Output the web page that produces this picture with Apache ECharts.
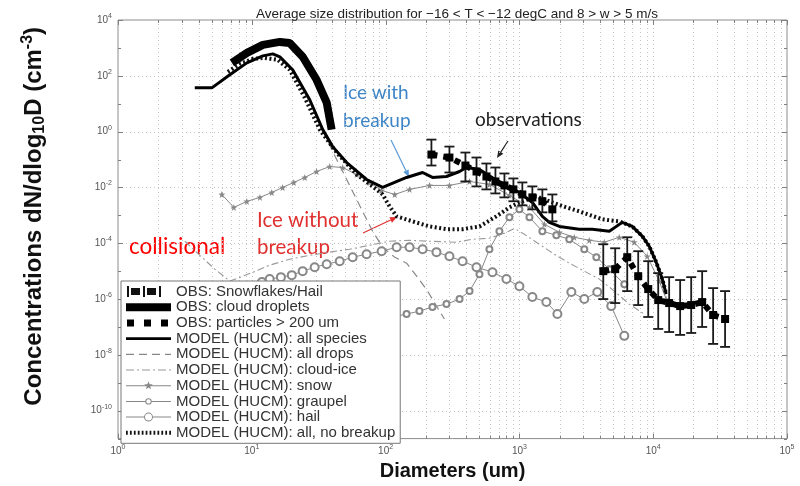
<!DOCTYPE html>
<html>
<head>
<meta charset="utf-8">
<script src="https://cdn.jsdelivr.net/npm/echarts@6/dist/echarts.min.js"></script>
<style>
html, body { margin: 0; padding: 0; background: #fff; }
#chart { width: 800px; height: 486px; }
</style>
</head>
<body>
<div id="chart"></div>
<script>
// Axis ticks (log10 decades)
const diameterTicks = [1, 10, 100, 1000, 10000, 100000];
const concentrationTicks = [1e-10, 1e-8, 1e-6, 1e-4, 1e-2, 1, 1e2, 1e4];

// Observations: cloud droplets (um, cm^-3)
const obsCloudDroplets = [[7.1,291],[9.2,661],[12.1,1280],[16.2,1640],[19.2,1500],[24,480],[30.5,72],[36.3,10.9],[39.5,1.18]];

// Observations: snowflakes/hail with spread, particles > 200 um
const obsDiameter = [220,300,395,478,567,662,773,902,1052,1250,1485,1763,
                     4236,5200,6397,7727,9180,10900,13160,15900,19230,23220,28050,34450];
const obsMid  = [0.151,0.118,0.0611,0.0373,0.0247,0.0164,0.0118,0.0085,0.0056,0.0044,0.0032,0.00164,
                 1.0e-5,1.18e-5,3.16e-5,6.6e-6,2.28e-6,9.2e-7,7.2e-7,5.6e-7,6.1e-7,7.8e-7,2.68e-7,1.93e-7];
const obsLow  = [0.0611,0.0343,0.0164,0.0109,0.0085,0.0061,0.0044,0.0032,0.00228,0.00164,0.00128,0.00061,
                 1.0e-6,7.2e-7,1.93e-6,6.1e-7,2.28e-7,8.5e-8,6.6e-8,5.2e-8,6.1e-8,1.0e-7,2.47e-8,1.93e-8];
const obsHigh = [0.518,0.291,0.178,0.118,0.072,0.0518,0.0316,0.021,0.0151,0.0109,0.0085,0.0056,
                 9.2e-5,6.6e-5,1.64e-4,5.2e-5,2.28e-5,8.5e-6,6.1e-6,4.8e-6,6.1e-6,1.0e-5,2.47e-6,1.93e-6];

// HUCM model size distributions
const modelAllSpecies = [[3.75,37],[5.03,37],[6.85,109],[9.18,291],[12.1,518],[14.35,611],[16.2,477],[20.2,164],
  [27.1,13.9],[33.9,1.18],[40.2,0.29],[51.2,0.078],[72.1,0.0193],[95,0.01],[143.5,0.0228],[189,0.0343],[224,0.0228],
  [285,0.0247],[357,0.0373],[402,0.052],[503,0.044],[629,0.022],[800,0.011],[1000,0.0066],[1250,0.0029],[1485,0.00092],
  [1675,0.00056],[1990,0.0004],[2800,0.00032],[3510,0.00032],[4700,0.00027],[5870,0.00056],[6970,0.0004],[8280,0.00018],
  [9340,7.8e-5],[10530,2.1e-5],[11700,5.2e-6],[12500,1.5e-6]];

const modelAllDrops = [[3.75,37],[5.03,37],[6.85,109],[9.18,291],[12.1,518],[14.35,611],[16.2,477],[20.2,164],
  [27.1,13.9],[33.9,1.18],[40.2,0.193],[47.8,0.0373],[56.7,0.0072],[67.3,0.00139],[80,2.7e-4],[95,7.2e-5],
  [117,3.16e-5],[143.5,1.93e-5],[173,6.1e-6],[206,1.93e-6],[240,5.6e-7],[275,1.93e-7]];

const modelCloudIce = [[3.16,1.18e-4],[4.09,3.7e-5],[5.29,1.18e-5],[6.85,4.4e-6],[8.57,6.6e-6],[10.7,1e-5],
  [13.6,1.64e-5],[19.2,2.68e-5],[27.1,3.7e-5],[38.2,4.8e-5],[53.8,6.1e-5],[76,8.5e-5],[107,1.18e-4],[151,1.28e-4],
  [213,1.18e-4],[339,1.09e-4],[446,1.39e-4],[597,1.51e-4],[773,2.28e-4],[918,3.4e-4],[1090,2.1e-4],[1410,9.2e-5],
  [1824,4.05e-5],[2360,1.93e-5],[3055,1e-5],[3955,5.2e-6],[5117,1.93e-6],[6620,6.6e-7],[8570,2.9e-7]];

const modelSnow = [[5.97,0.0056],[7.34,0.00193],[9.18,0.00316],[11.5,0.0044],[14.1,0.0066],[17.0,0.01],[20.6,0.0151],
  [24.9,0.0228],[30.5,0.0373],[38.2,0.056],[47.8,0.0518],[60.8,0.0291],[76,0.0151],[93.4,0.0078],[117,0.0056],
  [151,0.0085],[213,0.0118],[300,0.0118],[424,0.0164],[597,0.0128],[842,0.0052],[1189,0.00193],[1537,4.8e-4],
  [1990,2.47e-4],[2570,1.64e-4],[3327,1.28e-4],[4306,1.09e-4],[5570,1.64e-4],[7211,1.09e-4],[9020,3.4e-5],
  [11090,4.4e-6],[12500,1e-6]];

const modelGraupel = [[90.2,1.64e-7],[113,2.28e-7],[143.5,2.9e-7],[179,3.7e-7],[224,5.2e-7],[285,6.6e-7],[357,1e-6],
  [424,1.93e-6],[503,7.8e-6],[597,6.1e-5],[709,2.7e-4],[842,8.5e-4],[1000,1.64e-3],[1189,8.5e-4],[1485,2.7e-4],
  [1888,1.93e-4],[2360,1.39e-4],[3055,6.1e-5],[3758,3.16e-5],[4700,1.18e-5],[6080,3.4e-6]];

const modelHail = [[11.9,4.05e-6],[13.6,5.2e-6],[16.5,6.1e-6],[19.9,7.2e-6],[24.0,1e-5],[29.5,1.39e-5],[36.3,1.78e-5],
  [45.4,2.28e-5],[56.7,3.16e-5],[72.1,4.05e-5],[93.4,5.2e-5],[121,7.2e-5],[151,7.2e-5],[189,6.1e-5],[240,4.8e-5],
  [300,3.4e-5],[376,2.28e-5],[478,1.39e-5],[629,9.2e-6],[800,5.2e-6],[1000,2.9e-6],[1250,1.18e-6],[1590,7.8e-7],
  [1923,2.9e-7],[2445,1.78e-6],[3055,1e-6],[3820,1.78e-6],[4860,5.6e-7],[6080,4.8e-8]];

const modelNoBreakup = [[6.62,139],[8.14,268],[10.2,405],[12.5,439],[15.6,373],[19.2,164],[24.9,16.4],[32.2,1.18],
  [43.1,0.178],[60.8,0.0291],[80,0.0109],[95,0.0056],[107,0.0021],[121,0.00092],[159,0.00061],[213,0.0004],
  [285,0.00032],[376,0.00032],[503,0.0004],[673,0.00092],[842,0.00193],[1000,0.0029],[1340,0.0048],[1763,0.0029],
  [2244,0.00193],[2800,0.00139],[4160,0.00072],[5570,0.00061],[6970,0.0004],[8280,0.00018],[9340,7.8e-5],
  [10530,2.1e-5],[11700,5.2e-6],[12500,1.5e-6]];

const legendNames = ['OBS: Snowflakes/Hail','OBS: cloud droplets','OBS: particles > 200 um',
  'MODEL (HUCM): all species','MODEL (HUCM): all drops','MODEL (HUCM): cloud-ice','MODEL (HUCM): snow',
  'MODEL (HUCM): graupel','MODEL (HUCM): hail','MODEL (HUCM): all, no breakup'];

// ---- derived structures ----
const obsBars = obsDiameter.map((d, i) => [d, obsMid[i], obsLow[i], obsHigh[i]]);
const obsParticles = [];
obsDiameter.forEach((d, i) => {
  if (i === 12) obsParticles.push(['-', '-']);
  obsParticles.push([d, obsMid[i]]);
});

// grid lines: majors and 2..9 minors on x, every decade on y
const gridData = [];
diameterTicks.forEach(v => gridData.push([v, 1, 0, 1]));
for (let e = 0; e < 5; e++) for (let m = 2; m <= 9; m++) gridData.push([m * Math.pow(10, e), 1, 0, 0]);
for (let e = -11; e <= 4; e++) gridData.push([1, Math.pow(10, e), 1, e % 2 === 0 ? 1 : 0]);

function renderGrid(params, api) {
  const cs = params.coordSys;
  const kind = api.value(2), major = api.value(3);
  const dotted = { stroke: '#c4c4c4', lineWidth: 1, lineDash: [1, 3] };
  const tick = { stroke: '#808080', lineWidth: 1 };
  const kids = [];
  const top = cs.y, bot = cs.y + cs.height, lft = cs.x, rgt = cs.x + cs.width;
  if (kind === 0) {
    const px = Math.round(api.coord([api.value(0), 1])[0]) + 0.5;
    if (px > lft + 1 && px < rgt - 1) {
      kids.push({ type: 'line', shape: { x1: px, y1: top, x2: px, y2: bot }, style: dotted });
    }
    const len = major ? 5 : 3;
    kids.push({ type: 'line', shape: { x1: px, y1: bot, x2: px, y2: bot - len }, style: tick });
    kids.push({ type: 'line', shape: { x1: px, y1: top, x2: px, y2: top + len }, style: tick });
  } else {
    const py = Math.round(api.coord([1, api.value(1)])[1]) + 0.5;
    if (major && py > top + 1 && py < bot - 1) {
      kids.push({ type: 'line', shape: { x1: lft, y1: py, x2: rgt, y2: py }, style: dotted });
    }
    const len = major ? 5 : 3;
    kids.push({ type: 'line', shape: { x1: lft, y1: py, x2: lft + len, y2: py }, style: tick });
    kids.push({ type: 'line', shape: { x1: rgt, y1: py, x2: rgt - len, y2: py }, style: tick });
  }
  return { type: 'group', children: kids };
}

function renderErrorBars(params, api) {
  const d = api.value(0);
  const c = api.coord([d, api.value(1)]);
  const lo = api.coord([d, api.value(2)]);
  const hi = api.coord([d, api.value(3)]);
  const hw = 5;
  const st = { stroke: '#1a1a1a', lineWidth: 1.8 };
  return {
    type: 'group',
    children: [
      { type: 'line', shape: { x1: c[0], y1: lo[1], x2: c[0], y2: hi[1] }, style: st },
      { type: 'line', shape: { x1: c[0] - hw, y1: lo[1], x2: c[0] + hw, y2: lo[1] }, style: st },
      { type: 'line', shape: { x1: c[0] - hw, y1: hi[1], x2: c[0] + hw, y2: hi[1] }, style: st },
      { type: 'rect', shape: { x: c[0] - 4, y: c[1] - 4, width: 8, height: 8 }, style: { fill: '#000' } }
    ]
  };
}

function powLabel(v) {
  const e = Math.round(Math.log10(v));
  return '{b|10}{s|' + e + '}';
}
const tickRich = {
  b: { fontSize: 10, color: '#555', fontFamily: 'Liberation Sans' },
  s: { fontSize: 7, color: '#555', fontFamily: 'Liberation Sans', padding: [0, 0, 8, 0] }
};

const starPath = 'path://M0,-5L1.2,-1.6L4.8,-1.5L1.9,0.6L2.9,4L0,2L-2.9,4L-1.9,0.6L-4.8,-1.5L-1.2,-1.6Z';

// legend glyphs, drawn in a 45x12 box (corner specks keep the box size)
const keep = 'M0,0h0.01v0.01h-0.01z M44.99,11.99h0.01v0.01h-0.01z ';
function ring(cx, cy, r, w) {
  const ri = r - w;
  return 'M' + cx + ',' + (cy - r) + ' A' + r + ',' + r + ' 0 1,1 ' + (cx - 0.01) + ',' + (cy - r) + ' Z ' +
         'M' + cx + ',' + (cy - ri) + ' A' + ri + ',' + ri + ' 0 1,0 ' + (cx + 0.01) + ',' + (cy - ri) + ' Z ';
}
let dotsIcon = keep;
for (let x = 0; x < 45; x += 4) dotsIcon += 'M' + x + ',4h1.8v4h-1.8z ';
const legendIcons = [
  keep + 'M1,0.5h2v11h-2z M5,2.5h9v7h-9z M17,0.5h2v11h-2z M21,2.5h9v7h-9z M33,0.5h2v11h-2z',
  keep + 'M0,2h45v8h-45z',
  keep + 'M1,2.5h7v7h-7z M18,2.5h7v7h-7z M35,2.5h7v7h-7z',
  keep + 'M0,4.6h45v2.8h-45z',
  keep + 'M0,5.4h8v1.2h-8z M13,5.4h8v1.2h-8z M26,5.4h8v1.2h-8z M39,5.4h6v1.2h-6z',
  keep + 'M0,5.4h8v1.2h-8z M11,5.4h2v1.2h-2z M16,5.4h8v1.2h-8z M27,5.4h2v1.2h-2z M32,5.4h8v1.2h-8z M43,5.4h2v1.2h-2z',
  keep + 'M0,5.5h45v1h-45z M22.5,1.5L23.6,4.5L26.8,4.6L24.2,6.5L25.1,9.6L22.5,7.8L19.9,9.6L20.8,6.5L18.2,4.6L21.4,4.5Z',
  keep + 'M0,5.5h19.3v1h-19.3z M25.7,5.5h19.3v1h-19.3z ' + ring(22.5, 6, 3.2, 1),
  keep + 'M0,5.5h18v1h-18z M27,5.5h18v1h-18z ' + ring(22.5, 6, 4.5, 1),
  dotsIcon
];

// annotation arrows
function arrow(x1, y1, x2, y2, color) {
  const a = Math.atan2(y2 - y1, x2 - x1), L = 7, W = 3;
  const bx = x2 - L * Math.cos(a), by = y2 - L * Math.sin(a);
  return [
    { type: 'line', shape: { x1, y1, x2: bx, y2: by }, style: { stroke: color, lineWidth: 1.2 } },
    { type: 'polygon', shape: { points: [[x2, y2], [bx - W * Math.sin(a), by + W * Math.cos(a)], [bx + W * Math.sin(a), by - W * Math.cos(a)]] }, style: { fill: color } }
  ];
}
function note(text, x, y, color, size) {
  return { type: 'text', x, y, style: { text, fill: color, font: size + 'px Lato', verticalAlign: 'middle', align: 'left' } };
}

const chart = echarts.init(document.getElementById('chart'), null, { renderer: 'canvas' });
chart.setOption({
  animation: false,
  backgroundColor: '#fff',
  title: {
    text: 'Average size distribution for \u221216 < T < \u221212 degC and 8 > w > 5 m/s',
    left: 452, top: 2, textAlign: 'center',
    textStyle: { fontSize: 13.5, fontWeight: 'normal', color: '#222', fontFamily: 'Liberation Sans' }
  },
  grid: { show: true, left: 118, right: 13, top: 20, bottom: 46, borderColor: '#8c8c8c', borderWidth: 1, backgroundColor: '#fff' },
  legend: {
    orient: 'vertical', left: 121, top: 281,
    backgroundColor: '#fff', borderColor: '#777', borderWidth: 1, borderRadius: 0,
    padding: [3, 5, 3, 5], itemGap: 0.7, itemWidth: 45, itemHeight: 12,
    itemStyle: { borderWidth: 0 },
    textStyle: { fontSize: 15, color: '#333', fontFamily: 'Liberation Sans' },
    data: legendNames.map((n, i) => ({ name: n, icon: 'path://' + legendIcons[i] }))
  },
  xAxis: {
    type: 'log', logBase: 10, min: 1, max: 1e5,
    name: 'Diameters (um)', nameLocation: 'middle', nameGap: 21,
    nameTextStyle: { fontSize: 20, fontWeight: 'bold', color: '#111', fontFamily: 'Liberation Sans' },
    axisLine: { show: false }, axisTick: { show: false }, splitLine: { show: false },
    axisLabel: { customValues: diameterTicks, formatter: powLabel, rich: tickRich, margin: 5, hideOverlap: false }
  },
  yAxis: {
    type: 'log', logBase: 10, min: 1e-11, max: 1e4,
    name: 'Concentrations dN/dlog{sub|10}D (cm{sup|-3})', nameLocation: 'middle', nameGap: 69, nameRotate: 90,
    nameTextStyle: {
      fontSize: 24, fontWeight: 'bold', color: '#111', fontFamily: 'Liberation Sans', padding: [0, 0, 0, 26],
      rich: {
        sub: { fontSize: 16, fontWeight: 'bold', color: '#111', fontFamily: 'Liberation Sans', padding: [10, 0, 0, 0] },
        sup: { fontSize: 16, fontWeight: 'bold', color: '#111', fontFamily: 'Liberation Sans', padding: [0, 0, 13, 0] }
      }
    },
    axisLine: { show: false }, axisTick: { show: false }, splitLine: { show: false },
    axisLabel: { customValues: concentrationTicks, formatter: powLabel, rich: tickRich, margin: 6, hideOverlap: false }
  },
  series: [
    { type: 'custom', name: 'grid', silent: true, z: 1, renderItem: renderGrid, data: gridData, encode: { x: 0, y: 1 } },
    { type: 'line', name: legendNames[5], data: modelCloudIce, symbol: 'none', z: 3,
      lineStyle: { color: '#9a9a9a', width: 1.1, type: [7, 3, 2, 3] }, itemStyle: { color: '#9a9a9a' } },
    { type: 'line', name: legendNames[4], data: modelAllDrops, symbol: 'none', z: 3,
      lineStyle: { color: '#888', width: 1.2, type: [8, 5] }, itemStyle: { color: '#888' } },
    { type: 'line', name: legendNames[8], data: modelHail, symbol: 'emptyCircle', symbolSize: 8, z: 3,
      lineStyle: { color: '#888', width: 1 }, itemStyle: { color: '#888', borderWidth: 1 } },
    { type: 'line', name: legendNames[7], data: modelGraupel, symbol: 'emptyCircle', symbolSize: 6, z: 3,
      lineStyle: { color: '#888', width: 1 }, itemStyle: { color: '#888', borderWidth: 1 } },
    { type: 'line', name: legendNames[6], data: modelSnow, symbol: starPath, symbolSize: 7, z: 3,
      lineStyle: { color: '#888', width: 1 }, itemStyle: { color: '#888' } },
    { type: 'line', name: legendNames[9], data: modelNoBreakup, symbol: 'none', z: 4,
      lineStyle: { color: '#111', width: 4, type: [2, 2.5], cap: 'butt' }, itemStyle: { color: '#111' } },
    { type: 'line', name: legendNames[3], data: modelAllSpecies, symbol: 'none', z: 5,
      lineStyle: { color: '#000', width: 3 }, itemStyle: { color: '#000' } },
    { type: 'line', name: legendNames[1], data: obsCloudDroplets, symbol: 'none', z: 5,
      lineStyle: { color: '#000', width: 8, cap: 'butt' }, itemStyle: { color: '#000' } },
    { type: 'line', name: legendNames[2], data: obsParticles, symbol: 'none', z: 6, connectNulls: false,
      lineStyle: { color: '#000', width: 6, type: [6, 6], cap: 'butt' }, itemStyle: { color: '#000' } },
    { type: 'custom', name: legendNames[0], z: 7, renderItem: renderErrorBars, data: obsBars,
      encode: { x: 0, y: [1, 2, 3] }, itemStyle: { color: '#111' } }
  ],
  graphic: [
    note('Ice with', 343, 93, '#3d85c6', 19),
    note('breakup', 343, 121, '#3d85c6', 19),
    ...arrow(391, 140, 409, 177, '#5b9bd5'),
    note('observations', 475, 120, '#222', 19),
    ...arrow(508, 141, 497, 158, '#222'),
    note('Ice without', 257, 220, '#e0302f', 20.5),
    note('breakup', 257, 247, '#e0302f', 20.5),
    ...arrow(363, 233, 397, 217, '#e0302f'),
    note('collisional', 129, 247, '#ff0000', 22.5)
  ]
});
</script>
</body>
</html>
